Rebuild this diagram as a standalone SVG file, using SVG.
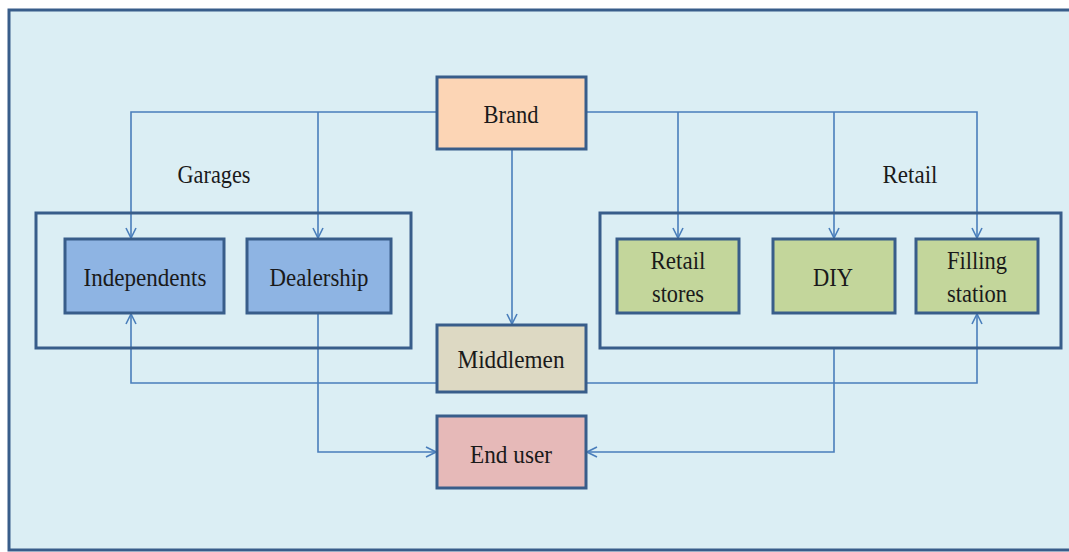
<svg xmlns="http://www.w3.org/2000/svg" width="1069" height="552" viewBox="0 0 1069 552">
  <style>
    .node { stroke: #385d8a; stroke-width: 3; }
    .group { fill: none; stroke: #385d8a; stroke-width: 3; }
    .wire { fill: none; stroke: #4a7ebb; stroke-width: 1.6; }
    text { font-family: "Liberation Serif", "Times New Roman", serif; font-size: 26px; fill: #1a1a1a; text-anchor: middle; }
  </style>
  <defs>
    <marker id="arrow" viewBox="0 0 12 12" refX="11" refY="6" markerWidth="12" markerHeight="12" markerUnits="userSpaceOnUse" orient="auto">
      <polyline points="1,1 11,6 1,11" fill="none" stroke="#4a7ebb" stroke-width="1.6"/>
    </marker>
  </defs>

  <!-- canvas -->
  <rect x="0" y="0" width="1069" height="552" fill="#ffffff"/>
  <rect x="9" y="10" width="1072" height="540" fill="#dbeef4" stroke="#385d8a" stroke-width="3"/>

  <!-- category labels -->
  <text x="214" y="183" textLength="73" lengthAdjust="spacingAndGlyphs">Garages</text>
  <text x="910" y="183" textLength="55" lengthAdjust="spacingAndGlyphs">Retail</text>

  <!-- connectors -->
  <g id="connectors">
    <path class="wire" d="M437,112 H131 V238" marker-end="url(#arrow)"/>
    <path class="wire" d="M318,112 V238" marker-end="url(#arrow)"/>
    <path class="wire" d="M586,112 H977 V238" marker-end="url(#arrow)"/>
    <path class="wire" d="M678,112 V238" marker-end="url(#arrow)"/>
    <path class="wire" d="M834,112 V238" marker-end="url(#arrow)"/>
    <path class="wire" d="M512,149 V324" marker-end="url(#arrow)"/>
    <path class="wire" d="M437,383 H131 V314" marker-end="url(#arrow)"/>
    <path class="wire" d="M586,383 H977 V314" marker-end="url(#arrow)"/>
    <path class="wire" d="M318,313 V452 H436" marker-end="url(#arrow)"/>
    <path class="wire" d="M834,348 V452 H587" marker-end="url(#arrow)"/>
  </g>

  <!-- groups -->
  <g id="garages">
    <rect class="group" x="36" y="213" width="375" height="135"/>
  </g>
  <g id="retail">
    <rect class="group" x="600" y="213" width="461" height="135"/>
  </g>

  <g id="brand">
    <rect class="node" x="437" y="77" width="149" height="72" fill="#fcd5b5"/>
    <text x="511" y="123" textLength="55" lengthAdjust="spacingAndGlyphs">Brand</text>
  </g>

  <g id="independents">
    <rect class="node" x="65" y="239" width="159" height="74" fill="#8eb4e3"/>
    <text x="145" y="286" textLength="123" lengthAdjust="spacingAndGlyphs">Independents</text>
  </g>

  <g id="dealership">
    <rect class="node" x="247" y="239" width="144" height="74" fill="#8eb4e3"/>
    <text x="319" y="286" textLength="99" lengthAdjust="spacingAndGlyphs">Dealership</text>
  </g>

  <g id="retail-stores">
    <rect class="node" x="617" y="239" width="122" height="74" fill="#c3d69b"/>
    <text x="678" y="269" textLength="55" lengthAdjust="spacingAndGlyphs">Retail</text>
    <text x="678" y="302" textLength="52" lengthAdjust="spacingAndGlyphs">stores</text>
  </g>

  <g id="diy">
    <rect class="node" x="773" y="239" width="122" height="74" fill="#c3d69b"/>
    <text x="833" y="286" textLength="40" lengthAdjust="spacingAndGlyphs">DIY</text>
  </g>

  <g id="filling-station">
    <rect class="node" x="916" y="239" width="122" height="74" fill="#c3d69b"/>
    <text x="977" y="269" textLength="60" lengthAdjust="spacingAndGlyphs">Filling</text>
    <text x="977" y="302" textLength="60" lengthAdjust="spacingAndGlyphs">station</text>
  </g>

  <g id="middlemen">
    <rect class="node" x="437" y="325" width="149" height="67" fill="#ddd9c3"/>
    <text x="511" y="368" textLength="107" lengthAdjust="spacingAndGlyphs">Middlemen</text>
  </g>

  <g id="end-user">
    <rect class="node" x="437" y="416" width="149" height="72" fill="#e6b9b8"/>
    <text x="511" y="463" textLength="82" lengthAdjust="spacingAndGlyphs">End user</text>
  </g>
</svg>
